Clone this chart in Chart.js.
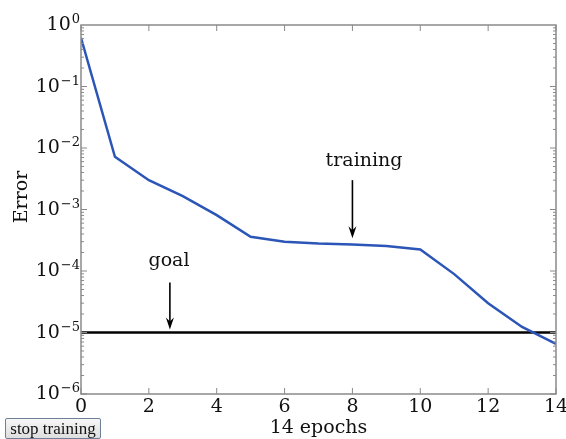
<!DOCTYPE html>
<html>
<head>
<meta charset="utf-8">
<script src="https://cdn.jsdelivr.net/npm/chart.js@4.4.0/dist/chart.umd.min.js"></script>
<style>
    html, body { margin: 0; padding: 0; background: #fff; }
    #wrap { position: relative; width: 566px; height: 439px; }
    #stop {
        position: absolute; left: 5px; top: 418px; height: 21px; width: 96px;
        padding: 0; font: 17px "Liberation Serif", serif; color: #111;
        border: 1px solid #6f7f98; border-radius: 2px;
        background: linear-gradient(#f7f7f7, #dedede);
    }
</style>
</head>
<body>
<div id="wrap">
    <canvas id="chart" width="566" height="439"></canvas>
    <button id="stop">stop training</button>
</div>
<script>
/* global Chart */

const epochs = [0, 1, 2, 3, 4, 5, 6, 7, 8, 9, 10, 11, 12, 13, 14];
const trainingError = [0.62, 7.2e-3, 3.0e-3, 1.65e-3, 8.1e-4, 3.6e-4, 3.0e-4, 2.8e-4, 2.7e-4, 2.55e-4, 2.24e-4, 8.9e-5, 3.0e-5, 1.23e-5, 6.5e-6];
const goal = 1e-5;
const goalLine = [goal, goal];
const goalEpochs = [0, 14];
const yTicks = [1e-6, 1e-5, 1e-4, 1e-3, 1e-2, 1e-1, 1];
const xTicks = [0, 2, 4, 6, 8, 10, 12, 14];

const FONT = '"DejaVu Serif", serif';

// frame, inward ticks, 10^n labels, arrows and titles
const decor = {
    id: 'decor',
    afterDraw(chart) {
        const {ctx, chartArea: a, scales: {x, y}} = chart;
        ctx.save();
        ctx.strokeStyle = '#8a8a8a';
        ctx.lineWidth = 1.5;
        ctx.strokeRect(a.left, a.top, a.right - a.left, a.bottom - a.top);

        ctx.lineWidth = 1;
        ctx.beginPath();
        for (let e = -6; e < 0; e++) {
            for (let m = 1; m < 10; m++) {
                const py = y.getPixelForValue(m * Math.pow(10, e));
                const len = m === 1 ? 6 : 3;
                ctx.moveTo(a.left, py); ctx.lineTo(a.left + len, py);
                ctx.moveTo(a.right, py); ctx.lineTo(a.right - len, py);
            }
        }
        xTicks.forEach(v => {
            const px = x.getPixelForValue(v);
            ctx.moveTo(px, a.bottom); ctx.lineTo(px, a.bottom - 6);
            ctx.moveTo(px, a.top); ctx.lineTo(px, a.top + 6);
        });
        ctx.stroke();

        // y tick labels as 10 with a raised exponent
        ctx.fillStyle = '#111';
        ctx.textBaseline = 'alphabetic';
        ctx.textAlign = 'right';
        yTicks.forEach(v => {
            const py = y.getPixelForValue(v);
            const ex = String(Math.round(Math.log10(v))).replace('-', '\u2212');
            const right = a.left - 1;
            ctx.font = '13px ' + FONT;
            const w = ctx.measureText(ex).width;
            ctx.fillText(ex, right, py - 2);
            ctx.font = '19px ' + FONT;
            ctx.fillText('10', right - w - 1, py + 5);
        });

        const arrow = (xv, y1, y2) => {
            const px = x.getPixelForValue(xv);
            const p1 = y.getPixelForValue(y1);
            const p2 = y.getPixelForValue(y2);
            ctx.strokeStyle = '#000';
            ctx.fillStyle = '#000';
            ctx.lineWidth = 1.6;
            ctx.beginPath();
            ctx.moveTo(px, p1); ctx.lineTo(px, p2 - 6);
            ctx.stroke();
            ctx.beginPath();
            ctx.moveTo(px, p2); ctx.lineTo(px - 4, p2 - 12); ctx.lineTo(px, p2 - 8); ctx.lineTo(px + 4, p2 - 12);
            ctx.closePath();
            ctx.fill();
        };
        arrow(8.0, 3.0e-3, 3.4e-4);
        arrow(2.62, 6.5e-5, 1.12e-5);

        ctx.fillStyle = '#111';
        ctx.font = '19px ' + FONT;
        ctx.textAlign = 'center';
        ctx.fillText('training', 364, 166);
        ctx.fillText('goal', 169, 266);
        ctx.fillText('14 epochs', (a.left + a.right) / 2, 433);

        ctx.translate(27, 197);
        ctx.rotate(-Math.PI / 2);
        ctx.fillText('Error', 0, 0);
        ctx.restore();
    }
};

new Chart(document.getElementById('chart'), {
    type: 'line',
    data: {
        datasets: [{
            label: 'training',
            data: epochs.map((e, i) => ({x: e, y: trainingError[i]})),
            borderColor: '#2b55b6',
            borderWidth: 2.5,
            pointRadius: 0,
            tension: 0
        }, {
            label: 'goal',
            data: goalEpochs.map((e, i) => ({x: e, y: goalLine[i]})),
            borderColor: '#000',
            borderWidth: 2.5,
            pointRadius: 0
        }]
    },
    options: {
        responsive: false,
        animation: false,
        layout: {padding: {top: 25, right: 10, left: 0, bottom: 0}},
        plugins: {legend: {display: false}, tooltip: {enabled: false}},
        scales: {
            x: {
                type: 'linear',
                min: 0,
                max: 14,
                afterBuildTicks: (s) => { s.ticks = xTicks.map(v => ({value: v})); },
                afterFit: (s) => { s.height = 45; s.paddingLeft = 0; s.paddingRight = 0; },
                grid: {display: false, drawTicks: false, tickLength: 0},
                border: {display: false},
                ticks: {padding: 2, color: '#111', font: {family: FONT, size: 19}, maxRotation: 0}
            },
            y: {
                type: 'logarithmic',
                min: 1e-6,
                max: 1,
                afterBuildTicks: (s) => { s.ticks = yTicks.map(v => ({value: v})); },
                afterFit: (s) => { s.width = 81; s.paddingTop = 0; s.paddingBottom = 0; },
                grid: {display: false, drawTicks: false, tickLength: 0},
                border: {display: false},
                ticks: {display: false}
            }
        }
    },
    plugins: [decor]
});
</script>
</body>
</html>
